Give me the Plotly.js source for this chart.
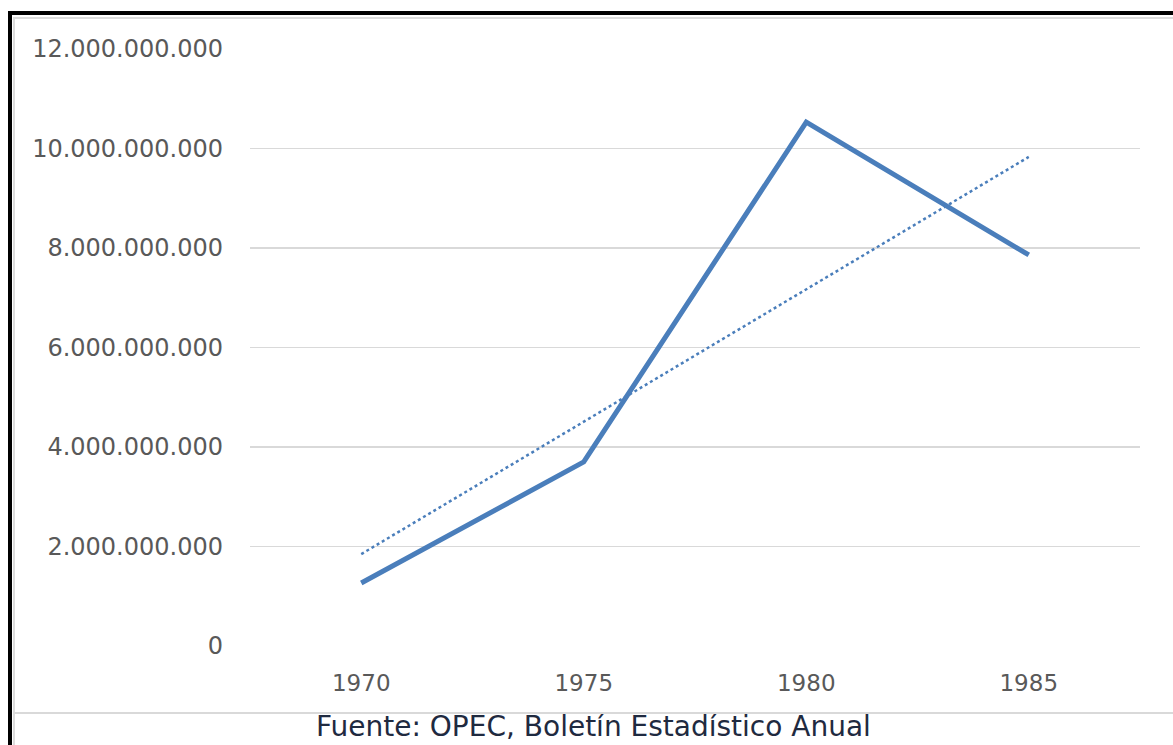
<!DOCTYPE html>
<html>
<head>
<meta charset="utf-8">
<script src="https://cdn.plot.ly/plotly-3.0.1.min.js"></script>
<style>
html,body{margin:0;padding:0;background:#fff;overflow:hidden;}
#wrap{position:relative;width:1173px;height:745px;}
#chart{position:absolute;left:0;top:0;width:1173px;height:745px;}
.b{position:absolute;}
</style>
</head>
<body>
<div id="wrap">
<div id="chart"></div>
<div class="b" style="left:8px;top:11px;width:4px;height:734px;background:#000;"></div>
<div class="b" style="left:8px;top:11px;width:1165px;height:4px;background:#000;"></div>
<div class="b" style="left:13px;top:17px;width:1160px;height:2px;background:#dcdcdc;"></div>
<div class="b" style="left:13px;top:17px;width:2px;height:728px;background:#dcdcdc;"></div>
<div class="b" style="left:13px;top:712px;width:1160px;height:2px;background:#d9d9d9;"></div>
</div>
<script>
const years = ['1970', '1975', '1980', '1985'];
const values = [1266000000, 3700000000, 10530000000, 7860000000];
const yTicks = [0, 2000000000, 4000000000, 6000000000, 8000000000, 10000000000, 12000000000];
const yTickLabels = ['0', '2.000.000.000', '4.000.000.000', '6.000.000.000', '8.000.000.000', '10.000.000.000', '12.000.000.000'];
const sourceText = 'Fuente: OPEC, Boletín Estadístico Anual';

// linear trendline (least squares) computed from the series
const n = values.length;
const xs = values.map((_, i) => i);
const mx = xs.reduce((a, b) => a + b, 0) / n;
const my = values.reduce((a, b) => a + b, 0) / n;
let num = 0, den = 0;
for (let i = 0; i < n; i++) { num += (xs[i] - mx) * (values[i] - my); den += (xs[i] - mx) ** 2; }
const slope = num / den, icpt = my - slope * mx;
const trend = xs.map(x => icpt + slope * x);

const data = [
  {x: years, y: trend, type: 'scatter', mode: 'lines',
   line: {color: '#4a7ebb', width: 2.5, dash: 'dot'}, hoverinfo: 'skip'},
  {x: years, y: values, type: 'scatter', mode: 'lines',
   line: {color: '#4a7ebb', width: 5}}
];

const layout = {
  width: 1173, height: 745,
  margin: {l: 250, r: 33, t: 49, b: 99},
  paper_bgcolor: 'rgba(0,0,0,0)', plot_bgcolor: 'rgba(0,0,0,0)',
  showlegend: false,
  font: {family: 'DejaVu Sans', color: '#595959'},
  xaxis: {type: 'category', showgrid: false, zeroline: false, showline: false,
          ticks: '', tickfont: {size: 23, color: '#595959'}, ticklabelstandoff: 21,
          range: [-0.5, 3.5]},
  yaxis: {range: [0, 12000000000], tickvals: yTicks, ticktext: yTickLabels,
          showgrid: true, gridcolor: '#d9d9d9', gridwidth: 1.5, zeroline: false, showline: false,
          ticks: '', tickfont: {size: 24, color: '#595959'}, ticklabelstandoff: 26},
  annotations: [{
    text: sourceText, xref: 'paper', yref: 'paper', x: (593 - 250) / 890, y: (646 - 744) / 597,
    xanchor: 'center', yanchor: 'bottom', showarrow: false, borderpad: 0,
    font: {family: 'DejaVu Sans', size: 28, color: '#1f2a40'}
  }]
};
Plotly.newPlot('chart', data, layout, {staticPlot: true});
</script>
</body>
</html>
